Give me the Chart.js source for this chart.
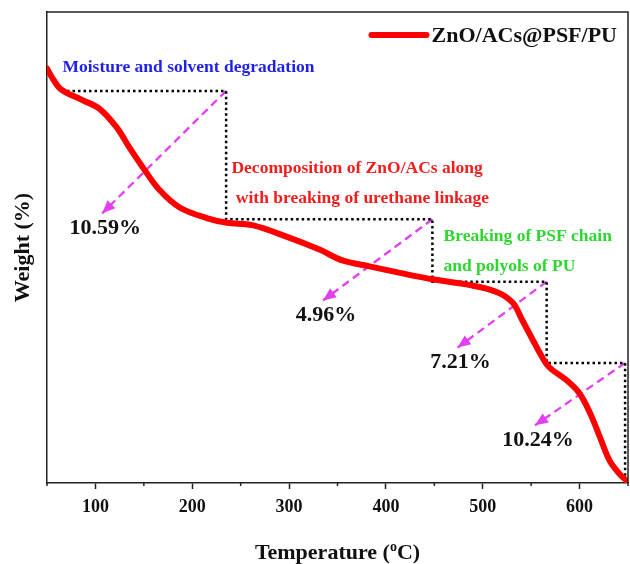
<!DOCTYPE html>
<html lang="en">
<head>
<meta charset="UTF-8">
<title>TGA ZnO/ACs@PSF/PU</title>
<script src="https://cdn.jsdelivr.net/npm/chart.js"></script>
<style>
  html, body { margin: 0; padding: 0; background: #fff; }
  #wrap { width: 630px; height: 564px; }
</style>
</head>
<body>
<div id="wrap"><canvas id="tga" width="630" height="564"></canvas></div>
<script>
// TGA curve
const temps = [50, 57, 65, 87, 104, 122, 135, 149, 166, 187, 215, 236, 262, 298, 332, 355, 383, 417, 448, 487, 515, 531, 541, 552, 562, 569, 587, 600, 611, 621, 631, 642, 650];
const weights = [100.2, 99.2, 98.4, 97.5, 96.8, 95.2, 93.5, 91.8, 89.9, 88.4, 87.5, 87.1, 86.9, 85.9, 84.8, 83.9, 83.4, 82.8, 82.3, 81.8, 81.2, 80.3, 78.8, 77.1, 75.6, 74.8, 73.7, 72.6, 70.9, 68.9, 66.9, 65.7, 65.1];

// dotted staircase (stage boundaries)
const stepTemps = [65, 235, 448, 566, 647];
const stepWeights = [98.3, 87.4, 82.1, 75.2, 65.4];

// magenta arrows: tip of each arrow, and the weight loss it points to
const arrowTipTemps = [107, 335, 474, 554];
const arrowTipWeights = [87.9, 80.5, 76.5, 69.9];
const lossPct = [10.59, 4.96, 7.21, 10.24];

const xTicks = [100, 200, 300, 400, 500, 600];
const xMinorTicks = [50, 150, 250, 350, 450, 550, 650];

const serif = "'Liberation Serif', 'Times New Roman', serif";
const magenta = '#e23ff0';

// stage descriptions, anchored in data units (temp, weight)
const notes = [
  { lines: ['Moisture and solvent degradation'], color: '#1f1fee', t: 66, w: 100.3 },
  { lines: ['Decomposition of ZnO/ACs along', ' with breaking of urethane linkage'], color: '#f21d1d', t: 240.5, w: 91.7 },
  { lines: ['Breaking of PSF chain', 'and polyols of PU'], color: '#2fd62f', t: 459.5, w: 85.9 }
];

const arrowSets = lossPct.map((p, i) => ({
  data: [
    { x: stepTemps[i + 1], y: stepWeights[i] },
    { x: arrowTipTemps[i], y: arrowTipWeights[i] }
  ],
  borderColor: magenta,
  borderWidth: 2.3,
  borderDash: [8, 5],
  pointRadius: 0,
  tension: 0
}));

const annot = {
  id: 'annot',
  afterDraw(chart) {
    const ctx = chart.ctx;
    const xs = chart.scales.x, ys = chart.scales.y;
    const a = chart.chartArea;
    ctx.save();

    // frame top + right
    ctx.strokeStyle = '#222';
    ctx.lineWidth = 1.5;
    ctx.beginPath();
    ctx.moveTo(a.left, a.top);
    ctx.lineTo(a.right, a.top);
    ctx.lineTo(a.right, a.bottom);
    ctx.stroke();

    // minor ticks
    xMinorTicks.forEach(v => {
      const px = xs.getPixelForValue(v);
      ctx.beginPath();
      ctx.moveTo(px, a.bottom);
      ctx.lineTo(px, a.bottom + 3);
      ctx.stroke();
    });

    // arrow heads + loss labels
    lossPct.forEach((p, i) => {
      const x0 = xs.getPixelForValue(stepTemps[i + 1]), y0 = ys.getPixelForValue(stepWeights[i]);
      const x1 = xs.getPixelForValue(arrowTipTemps[i]), y1 = ys.getPixelForValue(arrowTipWeights[i]);
      const ang = Math.atan2(y1 - y0, x1 - x0);
      const L = 13, H = 5.5;
      ctx.fillStyle = magenta;
      ctx.beginPath();
      ctx.moveTo(x1, y1);
      ctx.lineTo(x1 - L * Math.cos(ang) + H * Math.sin(ang), y1 - L * Math.sin(ang) - H * Math.cos(ang));
      ctx.lineTo(x1 - L * Math.cos(ang) - H * Math.sin(ang), y1 - L * Math.sin(ang) + H * Math.cos(ang));
      ctx.closePath();
      ctx.fill();

      ctx.fillStyle = '#111';
      ctx.font = 'bold 22px ' + serif;
      ctx.textAlign = 'center';
      ctx.textBaseline = 'middle';
      ctx.fillText(p.toFixed(2) + '%', x1 + 3, y1 + 15);
    });

    // stage notes
    ctx.font = 'bold 17.5px ' + serif;
    ctx.textAlign = 'left';
    ctx.textBaseline = 'middle';
    notes.forEach(n => {
      ctx.fillStyle = n.color;
      const px = xs.getPixelForValue(n.t), py = ys.getPixelForValue(n.w);
      n.lines.forEach((s, k) => ctx.fillText(s, px, py + k * 30));
    });

    // legend
    const label = chart.data.datasets[0].label;
    ctx.font = 'bold 22px ' + serif;
    const tw = ctx.measureText(label).width;
    const tx = a.right - 11 - tw, ty = 36;
    ctx.fillStyle = '#111';
    ctx.fillText(label, tx, ty);
    ctx.strokeStyle = chart.data.datasets[0].borderColor;
    ctx.lineWidth = 6;
    ctx.lineCap = 'round';
    ctx.beginPath();
    ctx.moveTo(tx - 60, ty - 1);
    ctx.lineTo(tx - 5, ty - 1);
    ctx.stroke();
    ctx.lineCap = 'butt';

    // x title with superscript o
    ctx.fillStyle = '#111';
    ctx.textBaseline = 'alphabetic';
    const big = 'bold 22px ' + serif, small = 'bold 14px ' + serif;
    ctx.font = big;
    const p1 = 'Temperature (', p3 = 'C)';
    const w1 = ctx.measureText(p1).width, w3 = ctx.measureText(p3).width;
    ctx.font = small;
    const w2 = ctx.measureText('o').width;
    const cx = (a.left + a.right) / 2;
    let x = cx - (w1 + w2 + w3) / 2;
    const base = 559;
    ctx.font = big;
    ctx.fillText(p1, x, base);
    x += w1;
    ctx.font = small;
    ctx.fillText('o', x, base - 8);
    x += w2;
    ctx.font = big;
    ctx.fillText(p3, x, base);

    ctx.restore();
  }
};

new Chart(document.getElementById('tga'), {
  type: 'line',
  data: {
    datasets: [
      {
        label: 'ZnO/ACs@PSF/PU',
        data: temps.map((t, i) => ({ x: t, y: weights[i] })),
        borderColor: '#ff0000',
        borderWidth: 6,
        pointRadius: 0,
        tension: 0.35,
        borderCapStyle: 'round'
      },
      {
        label: 'steps',
        data: stepTemps.map((t, i) => ({ x: t, y: stepWeights[i] })),
        borderColor: '#000',
        borderWidth: 2.5,
        borderDash: [2.5, 3],
        pointRadius: 0,
        stepped: 'before'
      },
      ...arrowSets
    ]
  },
  options: {
    responsive: false,
    animation: false,
    layout: { padding: { top: 12, right: 2, left: 0, bottom: 0 } },
    plugins: { legend: { display: false }, tooltip: { enabled: false } },
    scales: {
      x: {
        type: 'linear',
        min: 50,
        max: 650,
        afterBuildTicks: s => { s.ticks = xTicks.map(v => ({ value: v })); },
        afterFit: s => { s.height = 81; },
        ticks: {
          color: '#111',
          padding: 8,
          maxRotation: 0,
          font: { family: serif, size: 18, weight: 'bold' }
        },
        grid: { drawOnChartArea: false, tickLength: 6, tickWidth: 1.5, tickColor: '#222' },
        border: { color: '#222', width: 1.5 }
      },
      y: {
        min: 65,
        max: 105,
        afterFit: s => { s.width = 47; },
        ticks: { display: false },
        grid: { drawOnChartArea: false, drawTicks: false },
        border: { color: '#222', width: 1.5 },
        title: {
          display: true,
          text: 'Weight (%)',
          color: '#111',
          padding: { top: 10, bottom: 0 },
          font: { family: serif, size: 22, weight: 'bold' }
        }
      }
    }
  },
  plugins: [annot]
});
</script>
</body>
</html>
